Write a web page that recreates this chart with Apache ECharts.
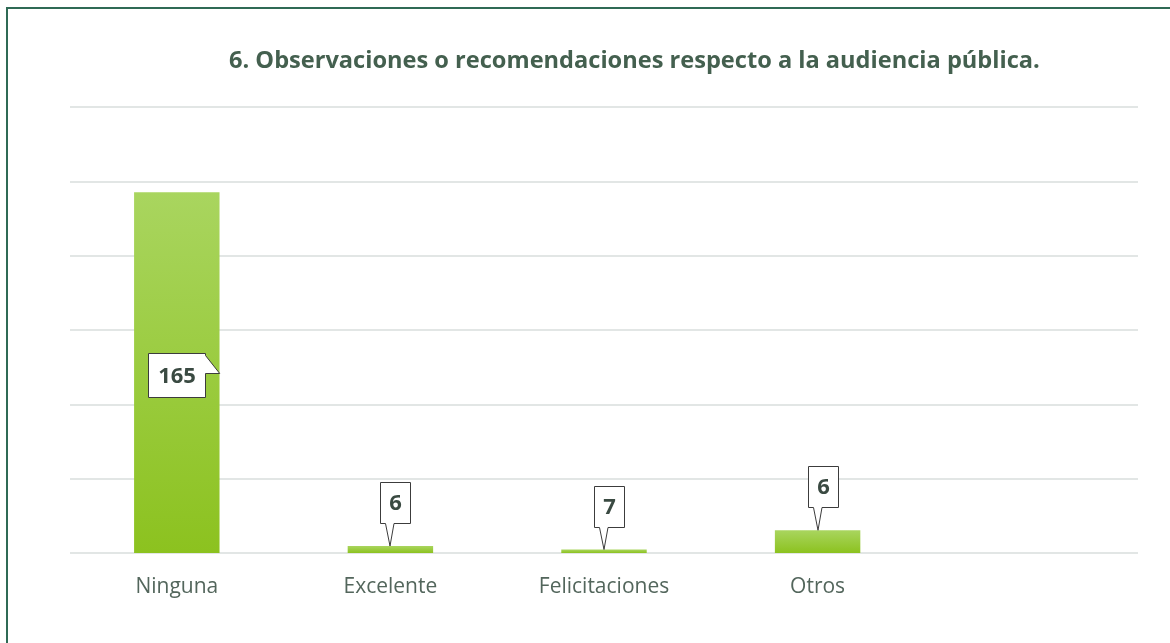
<!DOCTYPE html>
<html>
<head>
<meta charset="utf-8">
<script src="https://cdn.jsdelivr.net/npm/echarts@6/dist/echarts.min.js"></script>
<style>
html,body{margin:0;padding:0;background:#fff;}
#c{width:1170px;height:643px;}
</style>
</head>
<body>
<div id="c"></div>
<script>
const titleText = '6. Observaciones o recomendaciones respecto a la audiencia pública.';
const categories = ['Ninguna', 'Excelente', 'Felicitaciones', 'Otros', ''];
// bar heights as drawn in the picture (axis units, axis labels hidden)
const barValues = [165, 3.2, 1.6, 10.4];
// label texts shown in the callouts
const labelTexts = ['165', '6', '7', '6'];
const yMax = 204;
const yInterval = 34;

const chart = echarts.init(document.getElementById('c'), null, {renderer: 'canvas'});
const FONT = '"Open Sans"';

function renderCallout(params, api) {
  const idx = api.value(0);
  const v = api.value(1);
  const top = api.coord([idx, v]);
  const base = api.coord([idx, 0]);
  const barW = api.size([1, 0])[0] * 0.4;
  const cx = Math.round(top[0]);
  const text = labelTexts[params.dataIndex];
  let pts, tx, ty;
  if (base[1] - top[1] > 100) {
    const mid = Math.round((top[1] + base[1]) / 2);
    const L = cx - 29 + 0.5, R = cx + 28 + 0.5, T = mid - 20 + 0.5, B = mid + 24 + 0.5;
    const tipX = cx + barW / 2;
    pts = [[L, T], [R, T], [R, T + 2], [tipX, mid + 0.5], [R, mid + 0.5], [R, B], [L, B]];
    tx = (L + R) / 2; ty = (T + B) / 2;
  } else {
    const tipY = top[1];
    const B = Math.round(tipY - 23) + 0.5, T = B - 41;
    const L = cx - 10 + 0.5, R = cx + 20 + 0.5;
    pts = [[L, T], [R, T], [R, B], [cx + 4, B], [cx, tipY], [cx - 4.5, B], [L, B]];
    tx = (L + R) / 2; ty = (T + B) / 2;
  }
  return {
    type: 'group',
    children: [
      {type: 'polygon', shape: {points: pts}, style: {fill: '#ffffff', stroke: '#3c3c3c', lineWidth: 1}},
      {type: 'text', style: {text: text, x: tx, y: ty + 1, align: 'center', verticalAlign: 'middle',
        fill: '#3a4a42', font: 'bold 22px ' + FONT}}
    ]
  };
}

const option = {
  animation: false,
  backgroundColor: '#ffffff',
  graphic: [
    {type: 'polyline', shape: {points: [[7, 643], [7, 8], [1170, 8]]}, style: {stroke: '#2f6a55', lineWidth: 2, fill: null}}
  ],
  title: {
    text: titleText,
    left: 224,
    top: 44,
    textStyle: {fontFamily: 'Open Sans', fontWeight: 'bold', fontSize: 23.6, color: '#44604f'}
  },
  grid: {left: 70, right: 32, top: 107, bottom: 90, containLabel: false},
  xAxis: {
    type: 'category',
    data: categories,
    axisLine: {show: false},
    axisTick: {show: false},
    axisLabel: {fontFamily: 'Open Sans', fontSize: 21, color: '#53665c', margin: 24, interval: 0}
  },
  yAxis: {
    type: 'value',
    min: 0, max: yMax, interval: yInterval,
    axisLabel: {show: false},
    axisLine: {show: false},
    axisTick: {show: false},
    splitLine: {lineStyle: {color: '#e2e6e5', width: 2}}
  },
  series: [
    {
      type: 'bar',
      data: barValues,
      barWidth: '40%',
      itemStyle: {
        color: new echarts.graphic.LinearGradient(0, 0, 0, 1, [
          {offset: 0, color: '#a9d55f'},
          {offset: 1, color: '#8cc21f'}
        ])
      },
      z: 2
    },
    {
      type: 'custom',
      data: barValues.map((v, i) => [i, v]),
      encode: {x: 0, y: 1},
      renderItem: renderCallout,
      z: 5
    }
  ]
};
chart.setOption(option);
</script>
</body>
</html>
